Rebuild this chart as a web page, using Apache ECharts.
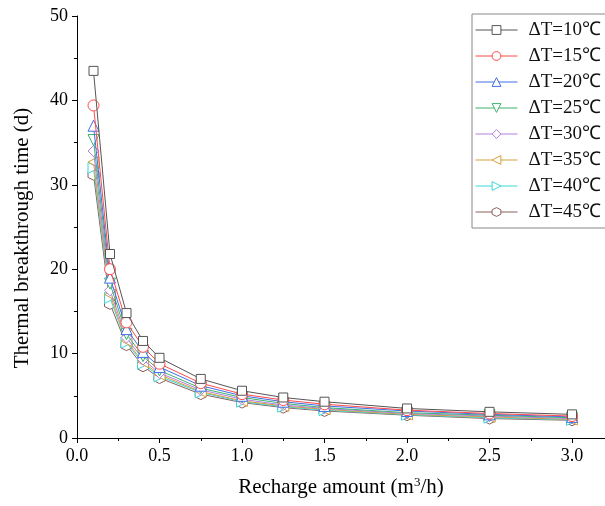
<!DOCTYPE html>
<html>
<head>
<meta charset="utf-8">
<script src="https://cdn.jsdelivr.net/npm/echarts@6/dist/echarts.min.js"></script>
<style>html,body{margin:0;padding:0;background:#fff;}#c{width:605px;height:506px;}</style>
</head>
<body>
<div id="c"></div>
<script>
var xValues = [0.1, 0.2, 0.3, 0.4, 0.5, 0.75, 1.0, 1.25, 1.5, 2.0, 2.5, 3.0];
var seriesNames = ['ΔT=10℃', 'ΔT=15℃', 'ΔT=20℃', 'ΔT=25℃', 'ΔT=30℃', 'ΔT=35℃', 'ΔT=40℃', 'ΔT=45℃'];
var dT10 = [43.5, 21.8, 14.8, 11.5, 9.5, 7.0, 5.6, 4.8, 4.3, 3.5, 3.1, 2.8];
var dT15 = [39.4, 20.0, 13.7, 10.8, 8.8, 6.5, 5.2, 4.5, 4.0, 3.3, 2.9, 2.6];
var dT20 = [37.0, 19.0, 12.9, 10.2, 8.4, 6.2, 5.0, 4.3, 3.8, 3.2, 2.8, 2.5];
var dT25 = [35.3, 18.3, 12.3, 9.7, 8.0, 5.9, 4.8, 4.1, 3.6, 3.0, 2.7, 2.4];
var dT30 = [34.0, 17.5, 11.9, 9.3, 7.7, 5.7, 4.6, 3.9, 3.5, 2.9, 2.6, 2.3];
var dT35 = [32.7, 17.0, 11.5, 9.0, 7.5, 5.5, 4.4, 3.8, 3.4, 2.8, 2.5, 2.2];
var dT40 = [32.0, 16.6, 11.3, 8.8, 7.3, 5.4, 4.3, 3.7, 3.3, 2.75, 2.4, 2.15];
var dT45 = [31.2, 15.9, 11.0, 8.5, 7.1, 5.2, 4.2, 3.6, 3.2, 2.7, 2.3, 2.1];
var allData = [dT10, dT15, dT20, dT25, dT30, dT35, dT40, dT45];

var colors = ['#555555', '#FF4A4A', '#3F6FE8', '#3CB371', '#B57EDC', '#D4A13A', '#3DD6D6', '#8B5F5F'];
var hexagon = 'path://M0,-10 L8.66,-5 L8.66,5 L0,10 L-8.66,5 L-8.66,-5 Z';
var symbols = ['rect', 'circle', 'triangle', 'triangle', 'diamond', 'triangle', 'triangle', hexagon];
var rotates = [0, 0, 0, 180, 0, 90, -90, 0];
var sizes = [9, 11, 11, 11, 11, 11, 11, 11];

var font = 'Liberation Serif';
var series = allData.map(function (d, i) {
  return {
    name: seriesNames[i],
    type: 'line',
    data: d.map(function (v, j) { return [xValues[j], v]; }),
    symbol: symbols[i],
    symbolRotate: rotates[i],
    symbolSize: sizes[i],
    showAllSymbol: true,
    z: 10 - i,
    lineStyle: { color: colors[i], width: 1 },
    itemStyle: { color: '#fff', borderColor: colors[i], borderWidth: 1 },
    emphasis: { disabled: true }
  };
});

var chart = echarts.init(document.getElementById('c'), null, { renderer: 'canvas' });
chart.setOption({
  animation: false,
  backgroundColor: '#fff',
  grid: { left: 77, right: 0, top: 16, bottom: 68, containLabel: false },
  legend: {
    orient: 'vertical',
    left: 472,
    top: 14,
    padding: [6, 10, 6, 3],
    itemWidth: 42,
    itemHeight: 11,
    itemGap: 6,
    borderColor: '#888',
    borderWidth: 1,
    lineStyle: { width: 1 },
    itemStyle: { borderWidth: 1 },
    textStyle: { fontFamily: font, fontSize: 19, color: '#111', lineHeight: 20, padding: [0, 0, 0, 6] },
    data: seriesNames
  },
  xAxis: {
    type: 'value',
    min: 0,
    max: 3.2,
    interval: 0.5,
    name: 'Recharge amount (m{sup|3}/h)',
    nameLocation: 'middle',
    nameGap: 38,
    nameTextStyle: {
      fontFamily: font, fontSize: 21, color: '#000',
      rich: { sup: { fontFamily: font, fontSize: 13, color: '#000', padding: [0, 0, 9, 0] } }
    },
    axisLine: { show: true, lineStyle: { color: '#000', width: 1 } },
    axisTick: { show: true, inside: false, length: 5, lineStyle: { color: '#000' } },
    minorTick: { show: true, splitNumber: 2, length: 3, lineStyle: { color: '#000' } },
    splitLine: { show: false },
    axisLabel: {
      fontFamily: font, fontSize: 18, color: '#000', margin: 9,
      formatter: function (v) { return v.toFixed(1); },
      showMaxLabel: false
    }
  },
  yAxis: {
    type: 'value',
    min: 0,
    max: 50,
    interval: 10,
    name: 'Thermal breakthrough time (d)',
    nameLocation: 'middle',
    nameGap: 44,
    nameTextStyle: { fontFamily: font, fontSize: 21, color: '#000', padding: [0, 22, 0, 0] },
    axisLine: { show: true, lineStyle: { color: '#000', width: 1 } },
    axisTick: { show: true, inside: false, length: 5, lineStyle: { color: '#000' } },
    minorTick: { show: true, splitNumber: 2, length: 3, lineStyle: { color: '#000' } },
    splitLine: { show: false },
    axisLabel: { fontFamily: font, fontSize: 18, color: '#000', margin: 9 }
  },
  series: series
});
</script>
</body>
</html>
